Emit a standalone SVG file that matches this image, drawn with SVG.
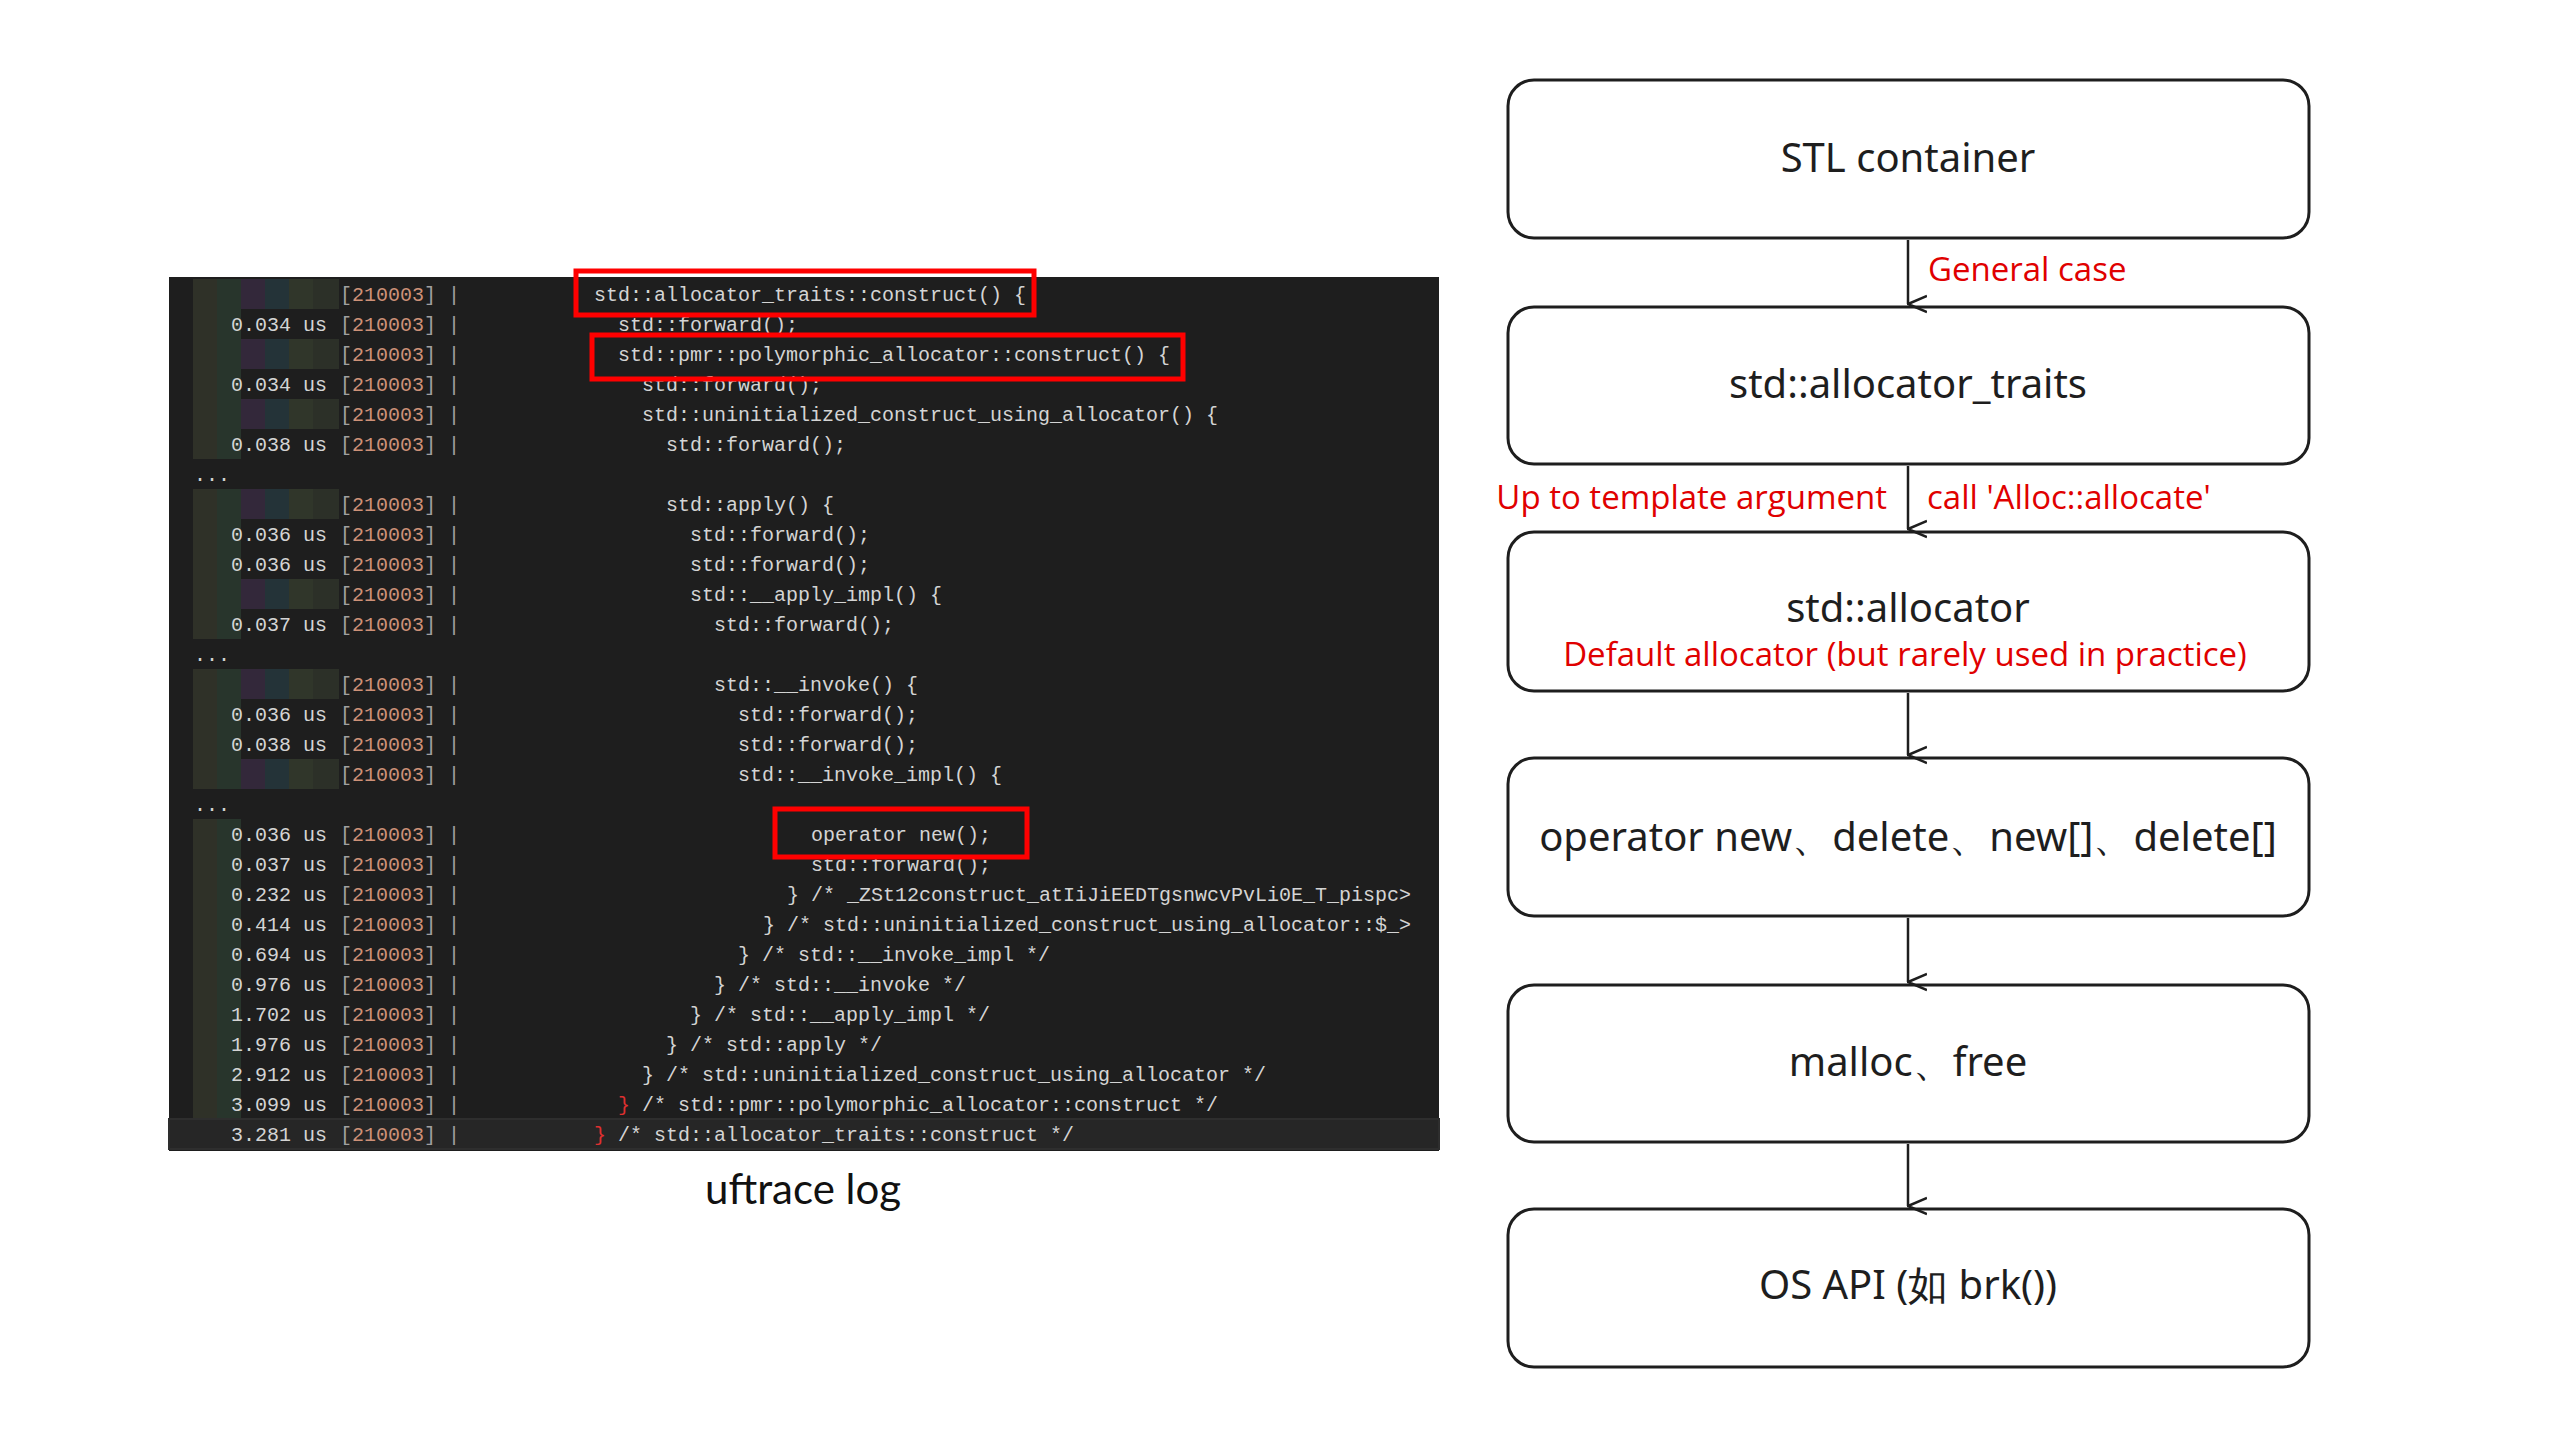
<svg xmlns="http://www.w3.org/2000/svg" width="2560" height="1440" viewBox="0 0 2560 1440">
<defs>
<style>
.m{font-family:"Liberation Mono","DejaVu Sans Mono",monospace;font-size:20px;fill:#d4d4d4;white-space:pre}
.t{text-anchor:end}
.n{fill:#ce9178}
.g{fill:#a0a0a0}
.rb{fill:#e03030}
.box{fill:#fff;stroke:#1e1e1e;stroke-width:3}
.lbl{font-family:"Noto Sans","DejaVu Sans",sans-serif;font-size:40px;fill:#1e1e1e;text-anchor:middle}
.red{font-family:"Open Sans","Noto Sans",sans-serif;font-size:33px;fill:#e00000}
.hl{fill:none;stroke:#ff0000;stroke-width:5}
.c1{fill:#2f3128}.c2{fill:#28352c}.c3{fill:#33283a}.c4{fill:#243338}.c5{fill:#30362a}.c6{fill:#2c3028}
</style>
<marker id="ah" viewBox="0 0 20 20" refX="10" refY="19" markerWidth="20" markerHeight="20" markerUnits="userSpaceOnUse" orient="auto-start-reverse">
<path d="M2 0 L10 19 L18 0" fill="none" stroke="#1e1e1e" stroke-width="2.5"/>
</marker>
</defs>
<rect width="2560" height="1440" fill="#fff"/>
<g id="log">
<rect x="169" y="277" width="1270" height="874" fill="#1e1e1e"/>
<!-- bars -->
<g>
<rect class="c1" x="193" y="279" width="24" height="180"/><rect class="c2" x="217" y="279" width="24" height="180"/>
<rect class="c1" x="193" y="489" width="24" height="150"/><rect class="c2" x="217" y="489" width="24" height="150"/>
<rect class="c1" x="193" y="669" width="24" height="120"/><rect class="c2" x="217" y="669" width="24" height="120"/>
<rect class="c1" x="193" y="819" width="24" height="330"/><rect class="c2" x="217" y="819" width="24" height="330"/>
</g>
<g id="barsfull">
<g transform="translate(0,279)"><rect class="c3" x="241" width="24" height="30"/><rect class="c4" x="265" width="24" height="30"/><rect class="c5" x="289" width="24" height="30"/><rect class="c6" x="313" width="26" height="30"/></g>
<g transform="translate(0,339)"><rect class="c3" x="241" width="24" height="30"/><rect class="c4" x="265" width="24" height="30"/><rect class="c5" x="289" width="24" height="30"/><rect class="c6" x="313" width="26" height="30"/></g>
<g transform="translate(0,399)"><rect class="c3" x="241" width="24" height="30"/><rect class="c4" x="265" width="24" height="30"/><rect class="c5" x="289" width="24" height="30"/><rect class="c6" x="313" width="26" height="30"/></g>
<g transform="translate(0,489)"><rect class="c3" x="241" width="24" height="30"/><rect class="c4" x="265" width="24" height="30"/><rect class="c5" x="289" width="24" height="30"/><rect class="c6" x="313" width="26" height="30"/></g>
<g transform="translate(0,579)"><rect class="c3" x="241" width="24" height="30"/><rect class="c4" x="265" width="24" height="30"/><rect class="c5" x="289" width="24" height="30"/><rect class="c6" x="313" width="26" height="30"/></g>
<g transform="translate(0,669)"><rect class="c3" x="241" width="24" height="30"/><rect class="c4" x="265" width="24" height="30"/><rect class="c5" x="289" width="24" height="30"/><rect class="c6" x="313" width="26" height="30"/></g>
<g transform="translate(0,759)"><rect class="c3" x="241" width="24" height="30"/><rect class="c4" x="265" width="24" height="30"/><rect class="c5" x="289" width="24" height="30"/><rect class="c6" x="313" width="26" height="30"/></g>
</g>
<rect x="169" y="1119" width="1270" height="30" fill="#262626" stroke="#2e2e2e" stroke-width="2"/>
<g class="m">
<text x="340" y="301"><tspan class="g">[</tspan><tspan class="n">210003</tspan><tspan class="g">] |</tspan></text>
<text x="594" y="301">std::allocator_traits::construct() {</text>
<text class="t" x="327" y="331">0.034 us</text><text x="340" y="331"><tspan class="g">[</tspan><tspan class="n">210003</tspan><tspan class="g">] |</tspan></text>
<text x="618" y="331">std::forward();</text>
<text x="340" y="361"><tspan class="g">[</tspan><tspan class="n">210003</tspan><tspan class="g">] |</tspan></text>
<text x="618" y="361">std::pmr::polymorphic_allocator::construct() {</text>
<text class="t" x="327" y="391">0.034 us</text><text x="340" y="391"><tspan class="g">[</tspan><tspan class="n">210003</tspan><tspan class="g">] |</tspan></text>
<text x="642" y="391">std::forward();</text>
<text x="340" y="421"><tspan class="g">[</tspan><tspan class="n">210003</tspan><tspan class="g">] |</tspan></text>
<text x="642" y="421">std::uninitialized_construct_using_allocator() {</text>
<text class="t" x="327" y="451">0.038 us</text><text x="340" y="451"><tspan class="g">[</tspan><tspan class="n">210003</tspan><tspan class="g">] |</tspan></text>
<text x="666" y="451">std::forward();</text>
<text x="194" y="481">...</text>
<text x="340" y="511"><tspan class="g">[</tspan><tspan class="n">210003</tspan><tspan class="g">] |</tspan></text>
<text x="666" y="511">std::apply() {</text>
<text class="t" x="327" y="541">0.036 us</text><text x="340" y="541"><tspan class="g">[</tspan><tspan class="n">210003</tspan><tspan class="g">] |</tspan></text>
<text x="690" y="541">std::forward();</text>
<text class="t" x="327" y="571">0.036 us</text><text x="340" y="571"><tspan class="g">[</tspan><tspan class="n">210003</tspan><tspan class="g">] |</tspan></text>
<text x="690" y="571">std::forward();</text>
<text x="340" y="601"><tspan class="g">[</tspan><tspan class="n">210003</tspan><tspan class="g">] |</tspan></text>
<text x="690" y="601">std::__apply_impl() {</text>
<text class="t" x="327" y="631">0.037 us</text><text x="340" y="631"><tspan class="g">[</tspan><tspan class="n">210003</tspan><tspan class="g">] |</tspan></text>
<text x="714" y="631">std::forward();</text>
<text x="194" y="661">...</text>
<text x="340" y="691"><tspan class="g">[</tspan><tspan class="n">210003</tspan><tspan class="g">] |</tspan></text>
<text x="714" y="691">std::__invoke() {</text>
<text class="t" x="327" y="721">0.036 us</text><text x="340" y="721"><tspan class="g">[</tspan><tspan class="n">210003</tspan><tspan class="g">] |</tspan></text>
<text x="738" y="721">std::forward();</text>
<text class="t" x="327" y="751">0.038 us</text><text x="340" y="751"><tspan class="g">[</tspan><tspan class="n">210003</tspan><tspan class="g">] |</tspan></text>
<text x="738" y="751">std::forward();</text>
<text x="340" y="781"><tspan class="g">[</tspan><tspan class="n">210003</tspan><tspan class="g">] |</tspan></text>
<text x="738" y="781">std::__invoke_impl() {</text>
<text x="194" y="811">...</text>
<text class="t" x="327" y="841">0.036 us</text><text x="340" y="841"><tspan class="g">[</tspan><tspan class="n">210003</tspan><tspan class="g">] |</tspan></text>
<text x="811" y="841">operator new();</text>
<text class="t" x="327" y="871">0.037 us</text><text x="340" y="871"><tspan class="g">[</tspan><tspan class="n">210003</tspan><tspan class="g">] |</tspan></text>
<text x="811" y="871">std::forward();</text>
<text class="t" x="327" y="901">0.232 us</text><text x="340" y="901"><tspan class="g">[</tspan><tspan class="n">210003</tspan><tspan class="g">] |</tspan></text>
<text x="787" y="901">} /* _ZSt12construct_atIiJiEEDTgsnwcvPvLi0E_T_pispc&gt;</text>
<text class="t" x="327" y="931">0.414 us</text><text x="340" y="931"><tspan class="g">[</tspan><tspan class="n">210003</tspan><tspan class="g">] |</tspan></text>
<text x="763" y="931">} /* std::uninitialized_construct_using_allocator::$_&gt;</text>
<text class="t" x="327" y="961">0.694 us</text><text x="340" y="961"><tspan class="g">[</tspan><tspan class="n">210003</tspan><tspan class="g">] |</tspan></text>
<text x="738" y="961">} /* std::__invoke_impl */</text>
<text class="t" x="327" y="991">0.976 us</text><text x="340" y="991"><tspan class="g">[</tspan><tspan class="n">210003</tspan><tspan class="g">] |</tspan></text>
<text x="714" y="991">} /* std::__invoke */</text>
<text class="t" x="327" y="1021">1.702 us</text><text x="340" y="1021"><tspan class="g">[</tspan><tspan class="n">210003</tspan><tspan class="g">] |</tspan></text>
<text x="690" y="1021">} /* std::__apply_impl */</text>
<text class="t" x="327" y="1051">1.976 us</text><text x="340" y="1051"><tspan class="g">[</tspan><tspan class="n">210003</tspan><tspan class="g">] |</tspan></text>
<text x="666" y="1051">} /* std::apply */</text>
<text class="t" x="327" y="1081">2.912 us</text><text x="340" y="1081"><tspan class="g">[</tspan><tspan class="n">210003</tspan><tspan class="g">] |</tspan></text>
<text x="642" y="1081">} /* std::uninitialized_construct_using_allocator */</text>
<text class="t" x="327" y="1111">3.099 us</text><text x="340" y="1111"><tspan class="g">[</tspan><tspan class="n">210003</tspan><tspan class="g">] |</tspan></text>
<text x="618" y="1111"><tspan class="rb">}</tspan> /* std::pmr::polymorphic_allocator::construct */</text>
<text class="t" x="327" y="1141">3.281 us</text><text x="340" y="1141"><tspan class="g">[</tspan><tspan class="n">210003</tspan><tspan class="g">] |</tspan></text>
<text x="594" y="1141"><tspan class="rb">}</tspan> /* std::allocator_traits::construct */</text>
</g>
<rect class="hl" x="576" y="271" width="458" height="44"/>
<rect class="hl" x="592" y="335" width="591" height="44"/>
<rect class="hl" x="775" y="809" width="252" height="48"/>
<text x="803" y="1204" font-family="Lato,'Open Sans',sans-serif" font-size="42" fill="#111" text-anchor="middle">uftrace log</text>
</g>
<g id="n1"><rect class="box" x="1508" y="80" width="801" height="158" rx="26"/><text class="lbl" x="1908" y="172">STL container</text></g>
<g id="n2"><rect class="box" x="1508" y="307" width="801" height="157" rx="26"/><text class="lbl" x="1908" y="398">std::allocator_traits</text></g>
<g id="n3"><rect class="box" x="1508" y="532" width="801" height="159" rx="26"/><text class="lbl" x="1908" y="622">std::allocator</text><text class="red" x="1905" y="666" font-size="30" text-anchor="middle">Default allocator (but rarely used in practice)</text></g>
<g id="n4"><rect class="box" x="1508" y="758" width="801" height="158" rx="26"/><text class="lbl" x="1908" y="851">operator new、delete、new[]、delete[]</text></g>
<g id="n5"><rect class="box" x="1508" y="985" width="801" height="157" rx="26"/><text class="lbl" x="1908" y="1076">malloc、free</text></g>
<g id="n6"><rect class="box" x="1508" y="1209" width="801" height="158" rx="26"/><text class="lbl" x="1908" y="1299" font-family="'Noto Sans','Noto Sans CJK SC',sans-serif">OS API (如 brk())</text></g>
<g id="edges" stroke="#1e1e1e" stroke-width="2.5" fill="none">
<line x1="1908" y1="240" x2="1908" y2="304" marker-end="url(#ah)"/>
<line x1="1908" y1="466" x2="1908" y2="529" marker-end="url(#ah)"/>
<line x1="1908" y1="693" x2="1908" y2="755" marker-end="url(#ah)"/>
<line x1="1908" y1="918" x2="1908" y2="982" marker-end="url(#ah)"/>
<line x1="1908" y1="1144" x2="1908" y2="1206" marker-end="url(#ah)"/>
</g>
<g id="edge-labels">
<text class="red" x="1928" y="281">General case</text>
<text class="red" x="1887" y="509" text-anchor="end">Up to template argument</text>
<text class="red" x="1927" y="509">call 'Alloc::allocate'</text>
</g>
</svg>
